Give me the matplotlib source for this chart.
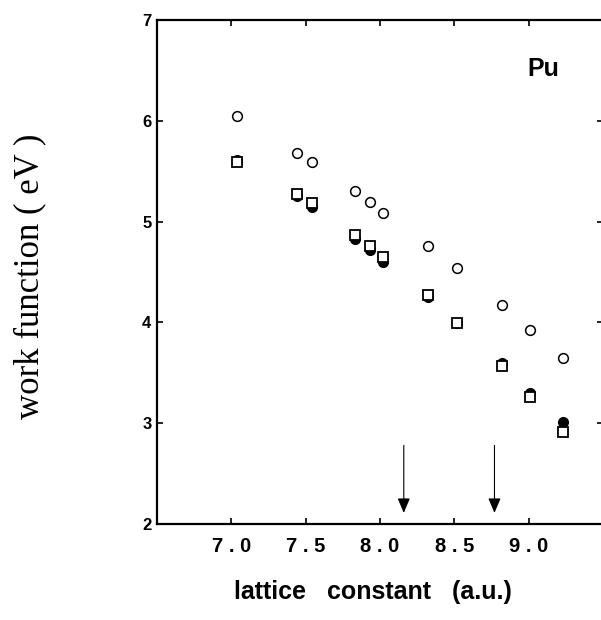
import numpy as np
import matplotlib
matplotlib.use("Agg")
import matplotlib.pyplot as plt

# lattice constants (a.u.)
lattice = [7.04, 7.44, 7.54, 7.83, 7.93, 8.02, 8.32, 8.52, 8.82, 9.01, 9.23]

# work functions (eV) for the three sets of calculations
wf_open = [6.05, 5.68, 5.59, 5.30, 5.19, 5.09, 4.76, 4.54, 4.17, 3.92, 3.65]
wf_filled = [5.61, 5.25, 5.14, 4.83, 4.72, 4.60, 4.25, 3.99, 3.60, 3.30, 3.01]
wf_square = [5.59, 5.27, 5.18, 4.87, 4.76, 4.65, 4.27, 3.99, 3.57, 3.26, 2.91]

# arrow positions (lattice constant)
arrow_x = [8.16, 8.77]

xticks = [7.0, 7.5, 8.0, 8.5, 9.0]
xticklabels = ["7 . 0", "7 . 5", "8 . 0", "8 . 5", "9 . 0"]
yticks = [2, 3, 4, 5, 6, 7]

plt.rcParams['font.family'] = ['Liberation Sans', 'DejaVu Sans']

fig = plt.figure(figsize=(6.01, 6.20), dpi=100)
ax = fig.add_axes([157 / 601, 96 / 620, 446 / 601, 504 / 620])

#Plot
ax.plot(lattice, wf_open, 'o', ms=7, mfc='white', mec='black', mew=1.1,
        ls='none', zorder=3)
ax.plot(lattice, wf_filled, 'o', ms=7, mfc='black', mec='black', mew=1.0,
        ls='none', zorder=3)
ax.plot(lattice, wf_square, 's', ms=6.5, mfc='white', mec='black', mew=1.3,
        ls='none', zorder=4)

for xa in arrow_x:
    ax.annotate('', xy=(xa, 2.11), xytext=(xa, 2.78),
                arrowprops=dict(arrowstyle='-|>,head_length=0.9,head_width=0.38',
                                color='black', lw=0.8, shrinkA=0, shrinkB=0))

ax.set_xlim(6.5, 9.5)
ax.set_ylim(2, 7)
ax.set_xticks(xticks)
ax.set_xticklabels(xticklabels, fontsize=14.5, fontweight='heavy')
ax.set_yticks(yticks)
ax.set_yticklabels([str(v) for v in yticks], fontsize=12, fontweight='bold')
ax.tick_params(direction='in', length=4, width=1.2, top=True, right=True)
ax.tick_params(axis='x', pad=9)
ax.tick_params(axis='y', pad=4)
for sp in ax.spines.values():
    sp.set_linewidth(1.6)

fig.text(543 / 601, 1 - 69 / 620, 'Pu', fontsize=18,
         fontweight='bold', ha='center', va='center')

fig.text(373 / 601, 1 - 592 / 620, 'lattice   constant   (a.u.)', fontsize=18,
         fontweight='bold', ha='center', va='center')
fig.text(30 / 601, 1 - 276 / 620, 'work function ( eV )', rotation=90,
         fontsize=25, family=['Liberation Serif', 'DejaVu Serif'],
         ha='center', va='center')

fig.savefig('out.png', dpi=100)
